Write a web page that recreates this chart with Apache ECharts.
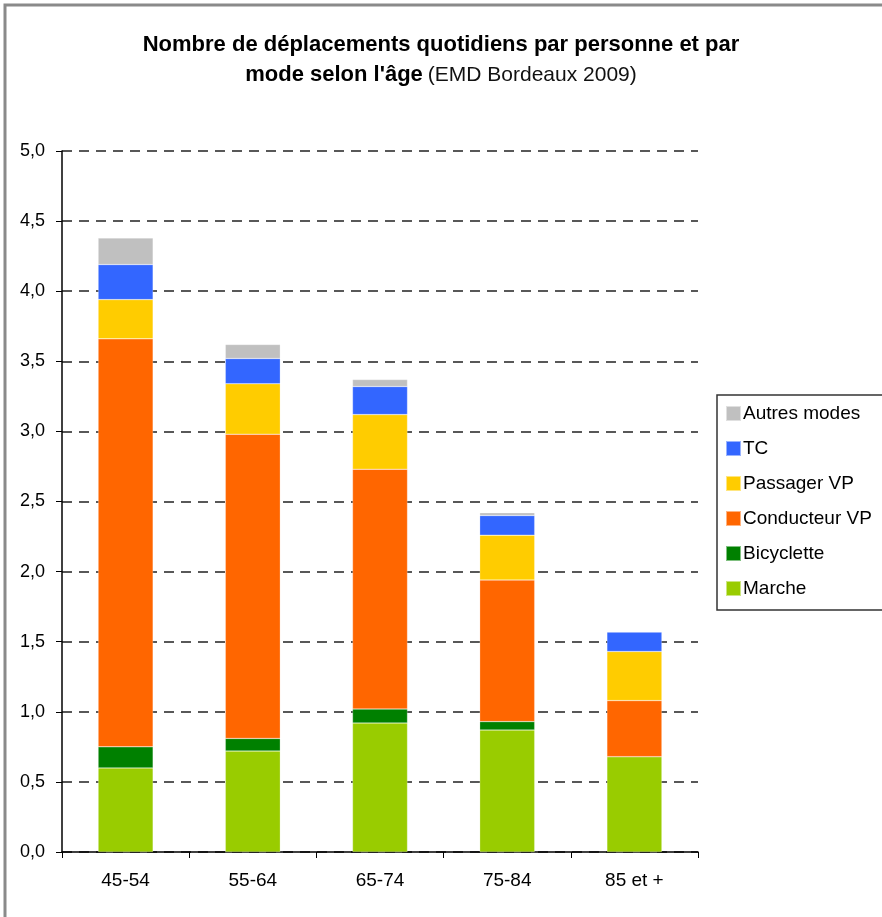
<!DOCTYPE html>
<html>
<head>
<meta charset="utf-8">
<script src="https://cdn.jsdelivr.net/npm/echarts@6/dist/echarts.min.js"></script>
<style>
html, body { margin: 0; padding: 0; background: #fff; }
#main { width: 882px; height: 917px; }
</style>
</head>
<body>
<div id="main"></div>
<script>
// tranches d'âge
var categories = ['45-54', '55-64', '65-74', '75-84', '85 et +'];

// déplacements par mode
var marche = [0.60, 0.72, 0.92, 0.87, 0.68];
var bicyclette = [0.15, 0.09, 0.10, 0.06, 0];
var conducteurVP = [2.91, 2.17, 1.71, 1.01, 0.40];
var passagerVP = [0.28, 0.36, 0.39, 0.32, 0.35];
var tc = [0.25, 0.18, 0.20, 0.14, 0.14];
var autresModes = [0.19, 0.10, 0.05, 0.02, 0];

var yTicks = [0, 0.5, 1, 1.5, 2, 2.5, 3, 3.5, 4, 4.5, 5];

var chart = echarts.init(document.getElementById('main'));

function serie(name, data, color) {
	return {
		name: name,
		type: 'bar',
		stack: 'total',
		barWidth: 55,
		data: data,
		itemStyle: {
			color: color,
			borderColor: 'rgba(255,255,255,0.5)',
			borderWidth: 0.5
		}
	};
}

var option = {
	animation: false,
	textStyle: { fontFamily: 'Liberation Sans, Arial, sans-serif' },
	graphic: [
		{
			type: 'rect',
			shape: { x: 5, y: 5, width: 1000, height: 1000 },
			style: { fill: 'none', stroke: '#8a8a8a', lineWidth: 3 },
			silent: true
		}
	],
	title: {
		left: 'center',
		top: 25,
		text: '{b|Nombre de déplacements quotidiens par personne et par}\n{b|mode selon l\'âge} {n|(EMD Bordeaux 2009)}',
		textStyle: {
			rich: {
				b: { fontSize: 22, fontWeight: 'bold', color: '#000', lineHeight: 30, fontFamily: 'Liberation Sans' },
				n: { fontSize: 21, fontWeight: 'normal', color: '#111', lineHeight: 30, fontFamily: 'Liberation Sans' }
			}
		}
	},
	legend: {
		orient: 'vertical',
		left: 717,
		top: 395,
		padding: [9, 30, 12, 8],
		borderColor: '#333',
		borderWidth: 1.5,
		itemWidth: 15,
		itemHeight: 15,
		itemGap: 16,
		icon: 'rect',
		textStyle: { fontSize: 19, lineHeight: 21, color: '#000', padding: [-4, 0, 0, -3] },
		data: ['Autres modes', 'TC', 'Passager VP', 'Conducteur VP', 'Bicyclette', 'Marche']
	},
	grid: {
		left: 62,
		right: 184,
		top: 151,
		height: 701
	},
	xAxis: {
		type: 'category',
		data: categories,
		axisLine: { lineStyle: { color: '#000', width: 1.5 } },
		axisTick: { show: true, length: 6, lineStyle: { color: '#000' } },
		axisLabel: { fontSize: 19, color: '#000', margin: 19 }
	},
	yAxis: {
		type: 'value',
		min: yTicks[0],
		max: yTicks[yTicks.length - 1],
		interval: 0.5,
		axisLine: { show: true, lineStyle: { color: '#000', width: 1.5 } },
		axisTick: { show: true, length: 6, lineStyle: { color: '#000' } },
		axisLabel: {
			fontSize: 18,
			color: '#000',
			margin: 17,
			formatter: function (v) { return v.toFixed(1).replace('.', ','); }
		},
		splitLine: {
			show: true,
			lineStyle: { color: '#222', width: 1.5, type: [10, 7] }
		}
	},
	series: [
		serie('Marche', marche, '#99CC00'),
		serie('Bicyclette', bicyclette, '#008000'),
		serie('Conducteur VP', conducteurVP, '#FF6600'),
		serie('Passager VP', passagerVP, '#FFCC00'),
		serie('TC', tc, '#3366FF'),
		serie('Autres modes', autresModes, '#C0C0C0')
	]
};

chart.setOption(option);
</script>
</body>
</html>
